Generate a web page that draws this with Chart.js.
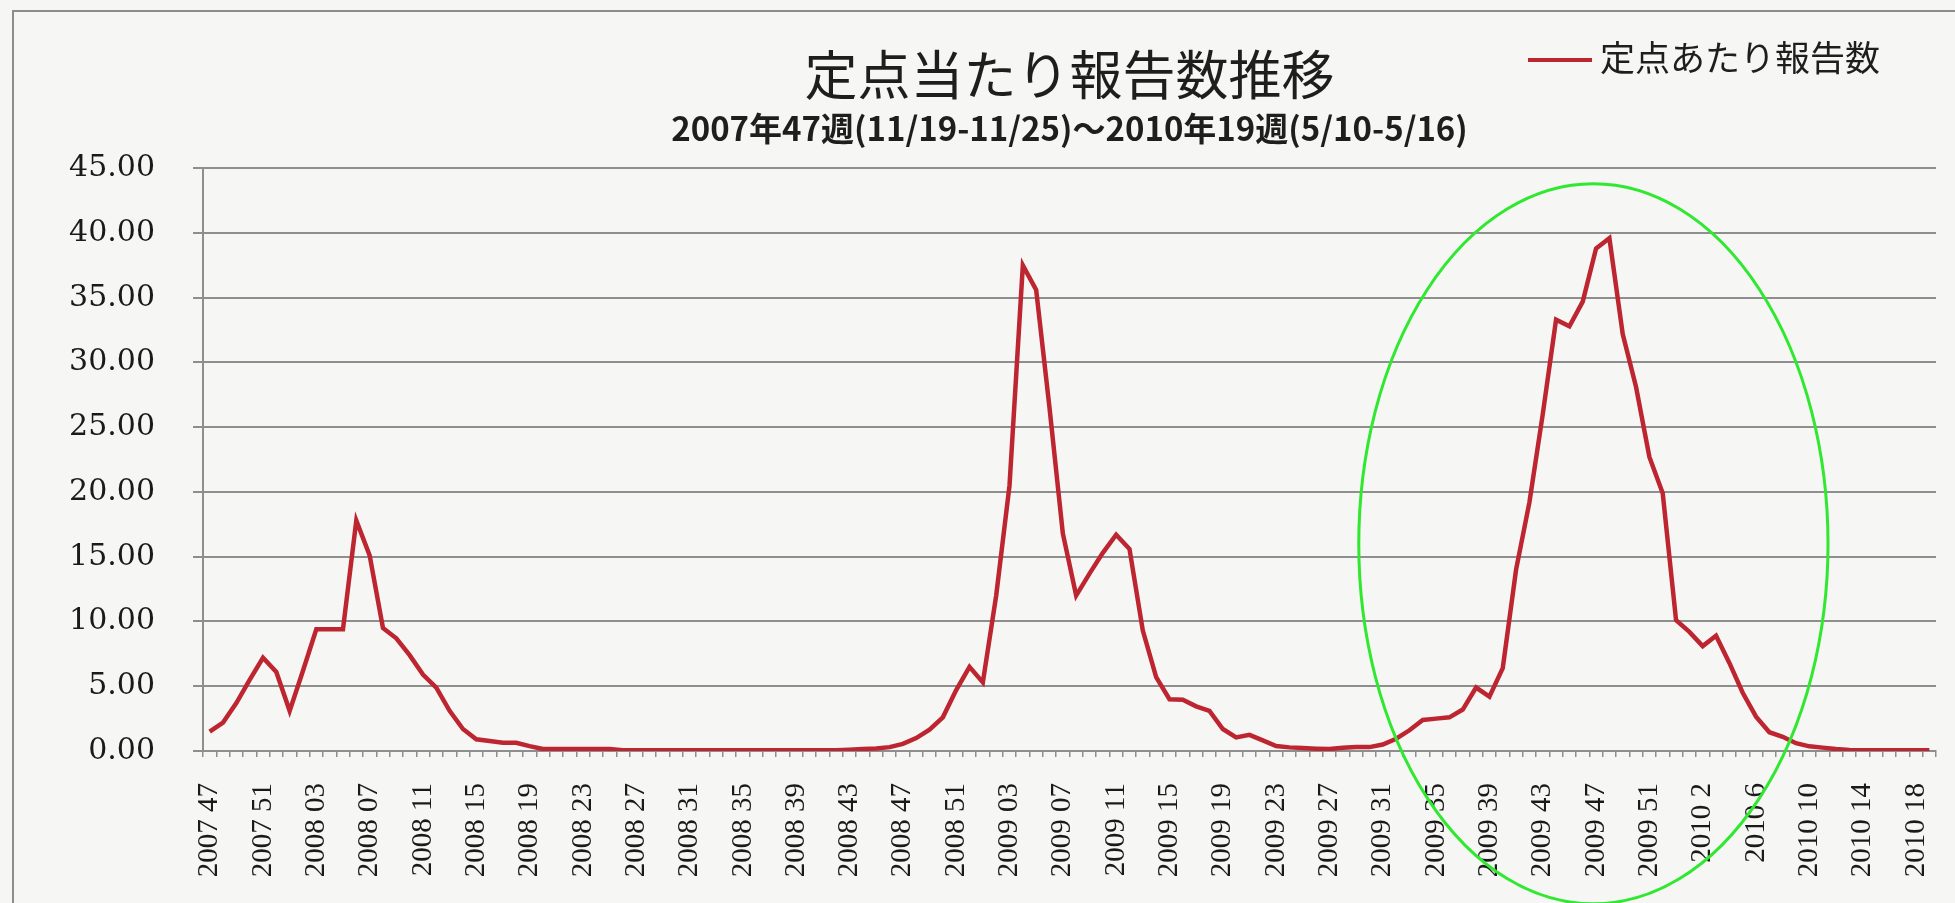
<!DOCTYPE html>
<html lang="ja">
<head>
<meta charset="utf-8">
<title>定点当たり報告数推移</title>
<script src="https://cdn.jsdelivr.net/npm/chart.js@4.4.1/dist/chart.umd.min.js"></script>
<style>
  html, body { margin: 0; padding: 0; background: #f6f6f4; overflow: hidden; }
  #wrap { position: relative; width: 1955px; height: 903px; }
  #frame { position: absolute; left: 12px; top: 10px; right: -10px; bottom: -10px;
           border-left: 2px solid #8d8d8d; border-top: 2px solid #8d8d8d; pointer-events: none; }
</style>
</head>
<body>
<div id="wrap">
  <canvas id="myChart"></canvas>
  <div id="frame"></div>
</div>
<script>
// week labels, 2007 w47 .. 2010 w19
var weekLabels = [
  "2007 47", "2007 48", "2007 49", "2007 50", "2007 51", "2007 52",
  "2008 01", "2008 02", "2008 03", "2008 04", "2008 05", "2008 06", "2008 07", "2008 08", "2008 09", "2008 10",
  "2008 11", "2008 12", "2008 13", "2008 14", "2008 15", "2008 16", "2008 17", "2008 18", "2008 19", "2008 20",
  "2008 21", "2008 22", "2008 23", "2008 24", "2008 25", "2008 26", "2008 27", "2008 28", "2008 29", "2008 30",
  "2008 31", "2008 32", "2008 33", "2008 34", "2008 35", "2008 36", "2008 37", "2008 38", "2008 39", "2008 40",
  "2008 41", "2008 42", "2008 43", "2008 44", "2008 45", "2008 46", "2008 47", "2008 48", "2008 49", "2008 50",
  "2008 51", "2008 52",
  "2009 01", "2009 02", "2009 03", "2009 04", "2009 05", "2009 06", "2009 07", "2009 08", "2009 09", "2009 10",
  "2009 11", "2009 12", "2009 13", "2009 14", "2009 15", "2009 16", "2009 17", "2009 18", "2009 19", "2009 20",
  "2009 21", "2009 22", "2009 23", "2009 24", "2009 25", "2009 26", "2009 27", "2009 28", "2009 29", "2009 30",
  "2009 31", "2009 32", "2009 33", "2009 34", "2009 35", "2009 36", "2009 37", "2009 38", "2009 39", "2009 40",
  "2009 41", "2009 42", "2009 43", "2009 44", "2009 45", "2009 46", "2009 47", "2009 48", "2009 49", "2009 50",
  "2009 51", "2009 52", "2009 53",
  "2010 1", "2010 2", "2010 3", "2010 4", "2010 5", "2010 6", "2010 7", "2010 8", "2010 9", "2010 10",
  "2010 11", "2010 12", "2010 13", "2010 14", "2010 15", "2010 16", "2010 17", "2010 18", "2010 19"
];

// reports per sentinel site
var reportsPerSite = [
  1.5, 2.2, 3.7, 5.5, 7.2, 6.1,
  3.1, 6.2, 9.4, 9.4, 9.4, 17.8, 15.1, 9.5, 8.7, 7.4,
  5.9, 4.9, 3.1, 1.7, 0.9, 0.77, 0.64, 0.64, 0.38, 0.15,
  0.15, 0.15, 0.15, 0.15, 0.15, 0.05, 0.05, 0.05, 0.05, 0.05,
  0.05, 0.05, 0.05, 0.05, 0.05, 0.05, 0.05, 0.05, 0.05, 0.05,
  0.05, 0.05, 0.1, 0.15, 0.2, 0.3, 0.55, 1.0, 1.65, 2.6,
  4.7, 6.5,
  5.3, 12.0, 20.5, 37.5, 35.6, 26.5, 16.8, 12.0, 13.7, 15.3,
  16.7, 15.6, 9.3, 5.7, 4.0, 3.95, 3.45, 3.1, 1.7, 1.05,
  1.25, 0.82, 0.38, 0.28, 0.23, 0.18, 0.15, 0.25, 0.3, 0.3,
  0.5, 0.95, 1.6, 2.4, 2.5, 2.6, 3.2, 4.9, 4.2, 6.4,
  14.0, 19.2, 26.0, 33.3, 32.8, 34.7, 38.8, 39.6, 32.2, 28.1,
  22.7, 19.9, 10.1,
  9.2, 8.1, 8.9, 6.8, 4.5, 2.65, 1.45, 1.1, 0.6, 0.36,
  0.26, 0.15, 0.08, 0.05, 0.05, 0.05, 0.05, 0.05, 0.05
];

var yTicks = [0, 5, 10, 15, 20, 25, 30, 35, 40, 45];

var titleText = "定点当たり報告数推移";
var subtitleText = "2007年47週(11/19-11/25)～2010年19週(5/10-5/16)";
var seriesName = "定点あたり報告数";

// green ring someone drew round the 2009 peak (centre week index / value, half sizes)
var ring = { index: 103.8, value: 16.0, halfWeeks: 17.6, halfValue: 27.8 };

var lineRed = "#bd2530";
var gridGrey = "#8e8e8e";

// legend sits on the title row, so it is drawn by hand
const overlayPlugin = {
  id: "overlay",
  afterDraw: function (chart) {
    var ctx = chart.ctx;
    var ds = chart.data.datasets[0];
    var xs = chart.scales.x;
    var ys = chart.scales.y;

    ctx.save();
    ctx.font = '35px "Noto Sans CJK JP"';
    var w = ctx.measureText(ds.label).width;
    var right = chart.width - 75;
    ctx.strokeStyle = ds.borderColor;
    ctx.lineWidth = 4;
    ctx.beginPath();
    ctx.moveTo(right - w - 72, 60);
    ctx.lineTo(right - w - 8, 60);
    ctx.stroke();
    ctx.fillStyle = "#1e1e1e";
    ctx.textBaseline = "middle";
    ctx.fillText(ds.label, right - w, 58);

    var cx = xs.getPixelForValue(ring.index);
    var cy = ys.getPixelForValue(ring.value);
    var rx = xs.getPixelForValue(ring.index + ring.halfWeeks) - cx;
    var ry = cy - ys.getPixelForValue(ring.value + ring.halfValue);
    ctx.strokeStyle = "#2fe82f";
    ctx.lineWidth = 3;
    ctx.beginPath();
    ctx.ellipse(cx, cy, rx, ry, 0, 0, Math.PI * 2);
    ctx.stroke();
    ctx.restore();
  }
};

var ctx = document.getElementById("myChart").getContext("2d");
let chart = new Chart(ctx, {
  type: "line",
  data: {
    labels: weekLabels,
    datasets: [
      {
        label: seriesName,
        data: reportsPerSite,
        borderColor: lineRed,
        backgroundColor: lineRed,
        borderWidth: 4.5,
        pointRadius: 0,
        tension: 0,
        fill: false,
      },
    ],
  },
  options: {
    responsive: true,
    maintainAspectRatio: false,
    animation: false,
    layout: { padding: { top: 10, left: 53, right: 19, bottom: 12 } },
    plugins: {
      legend: { display: false },
      tooltip: { enabled: false },
      title: {
        display: true,
        text: titleText,
        fullSize: false,
        color: "#1e1e1e",
        font: { family: '"Noto Sans CJK JP"', size: 53, weight: "400", lineHeight: 1.2 },
        padding: { top: 33, bottom: 0 },
      },
      subtitle: {
        display: true,
        text: subtitleText,
        fullSize: false,
        color: "#1e1e1e",
        font: { family: '"Noto Sans CJK JP"', size: 33, weight: "700", lineHeight: 1.2 },
        padding: { top: 2, bottom: 20 },
      },
    },
    scales: {
      x: {
        offset: true,
        afterFit: function (scale) {
          scale.paddingLeft = 0;
          scale.paddingRight = 0;
          scale.height = 140;
        },
        grid: {
          offset: true,
          drawOnChartArea: false,
          drawTicks: true,
          tickLength: 6,
          color: gridGrey,
          lineWidth: 1.5,
        },
        border: { display: true, color: gridGrey, width: 2 },
        ticks: {
          autoSkip: false,
          maxRotation: 90,
          minRotation: 90,
          padding: 26,
          color: "#1a1a1a",
          font: { family: '"Liberation Serif"', size: 29 },
          callback: function (value, index) {
            return index % 4 === 0 ? weekLabels[index] : "";
          },
        },
      },
      y: {
        min: yTicks[0],
        max: yTicks[yTicks.length - 1],
        afterBuildTicks: function (axis) {
          axis.ticks = yTicks.map(function (v) { return { value: v }; });
        },
        afterFit: function (scale) {
          scale.width = 150;
        },
        grid: {
          color: gridGrey,
          lineWidth: 2,
          tickLength: 10,
        },
        border: { display: true, color: gridGrey, width: 2 },
        ticks: {
          padding: 38,
          color: "#1a1a1a",
          font: { family: '"DejaVu Serif"', size: 30 },
          callback: function (value) {
            return Number(value).toFixed(2);
          },
        },
      },
    },
  },
  plugins: [overlayPlugin],
});
</script>
</body>
</html>
